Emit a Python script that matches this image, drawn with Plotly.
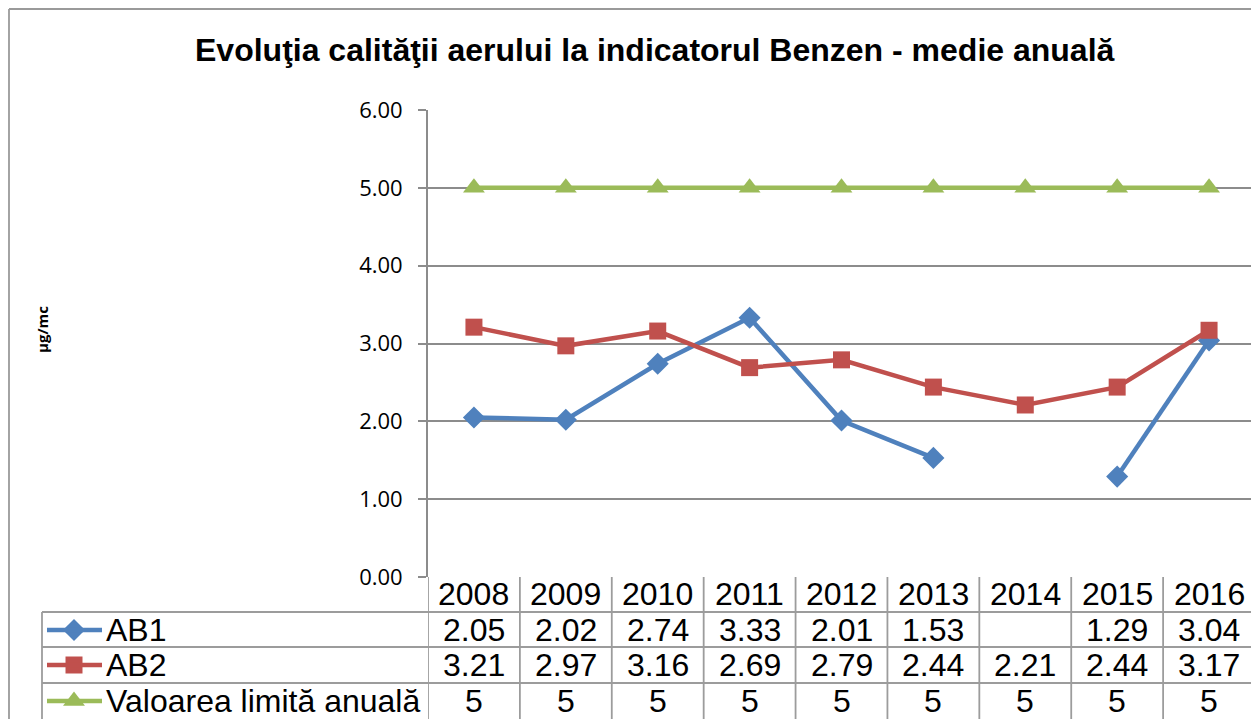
import plotly.graph_objects as go

# Date
ani = ['2008', '2009', '2010', '2011', '2012', '2013', '2014', '2015', '2016']
ab1 = [2.05, 2.02, 2.74, 3.33, 2.01, 1.53, None, 1.29, 3.04]
ab2 = [3.21, 2.97, 3.16, 2.69, 2.79, 2.44, 2.21, 2.44, 3.17]
limita = [5, 5, 5, 5, 5, 5, 5, 5, 5]

serii = [
    ('AB1', ab1, '#4F81BD', 'diamond', 17),
    ('AB2', ab2, '#C0504D', 'square', 17),
    ('Valoarea limită anuală', limita, '#9BBB59', 'triangle-up', 19),
]

W, H = 1259, 719
OFF = 8  # marginea paginii (body) deplaseaza totul cu 8px
GRID = '#8c8c8c'
TBL = '#9c9c9c'


def px(x):
    return (x - OFF) / W


def py(y):
    return 1 - (y - OFF) / H


fig = go.Figure()
idx = list(range(len(ani)))
for nume, vals, culoare, simbol, msize in serii:
    fig.add_trace(go.Scatter(
        x=idx, y=vals, mode='lines+markers', name=nume,
        line=dict(color=culoare, width=4.5),
        marker=dict(symbol=simbol, size=msize, color=culoare),
        connectgaps=False, showlegend=False,
        hovertemplate='%{y}<extra>' + nume + '</extra>'
    ))

shapes = []
ann = []


def linie(x0, y0, x1, y1, culoare, w=1.8, xref='paper'):
    shapes.append(dict(type='line', xref=xref, yref='paper',
                       x0=x0, x1=x1, y0=y0, y1=y1,
                       line=dict(color=culoare, width=w)))


# rama exterioara (doar stanga si sus se vad)
linie(px(9), py(9), 1, py(9), '#9a9a9a')
linie(px(9), py(9), px(9), 0, '#9a9a9a')

# tabel de date
rand_y = [594, 630, 665, 701]
for yy in [612, 647, 683]:
    linie(px(42), py(yy), px(1255), py(yy), TBL)
linie(px(42), py(612), px(42), 0, TBL)
for i in range(len(ani) + 1):
    linie(i - 0.5, py(577), i - 0.5, 0, TBL, xref='x')

FS = 32
for i, an in enumerate(ani):
    ann.append(dict(x=i, y=py(rand_y[0]), xref='x', yref='paper', text=an,
                    yanchor='middle', showarrow=False, font=dict(size=FS)))
    for r, (nume, vals, *_rest) in enumerate(serii):
        v = vals[i]
        if v is None:
            continue
        txt = str(v) if isinstance(v, int) else f'{v:.2f}'
        ann.append(dict(x=i, y=py(rand_y[r + 1]), xref='x', yref='paper',
                        text=txt, yanchor='middle', showarrow=False,
                        font=dict(size=FS)))

# legenda in tabel
for r, (nume, vals, culoare, simbol, msize) in enumerate(serii):
    yy = rand_y[r + 1]
    linie(px(47), py(yy), px(102), py(yy), culoare, w=4.5)
    fig.add_trace(go.Scatter(
        x=[74 - OFF], y=[yy - OFF], xaxis='x2', yaxis='y2', mode='markers',
        marker=dict(symbol=simbol, size=msize, color=culoare),
        showlegend=False, hoverinfo='skip'))
    ann.append(dict(x=px(104), y=py(yy), xref='paper', yref='paper',
                    text=nume, showarrow=False, xanchor='left',
                    yanchor='middle', font=dict(size=FS)))

ann.append(dict(x=px(655), y=py(50), xref='paper', yref='paper',
                text='<b>Evoluţia calităţii aerului la indicatorul Benzen - medie anuală</b>',
                showarrow=False, xanchor='center', yanchor='middle',
                font=dict(size=32)))
ann.append(dict(x=px(42), y=py(330), xref='paper', yref='paper',
                text='<b>µg/mc</b>', textangle=-90, showarrow=False,
                xanchor='center', yanchor='middle',
                font=dict(size=15, family='Open Sans')))

fig.update_layout(
    width=W, height=H,
    margin=dict(l=0, r=0, t=0, b=0, autoexpand=False),
    paper_bgcolor='white', plot_bgcolor='rgba(0,0,0,0)',
    font=dict(family='Liberation Sans, Arial', color='black'),
    xaxis=dict(domain=[px(428), px(1255)], range=[-0.5, len(ani) - 0.5],
               showticklabels=False, showgrid=False, zeroline=False,
               showline=False, fixedrange=True),
    yaxis=dict(domain=[py(577), py(110)], range=[0, 6], dtick=1,
               tickformat='.2f', showgrid=True, gridcolor=GRID, gridwidth=1.8,
               zeroline=False, showline=True, linecolor=GRID, linewidth=1.8,
               ticks='outside', ticklen=8, tickcolor=GRID, tickwidth=1.8,
               tickfont=dict(family='Open Sans', size=22), ticklabelstandoff=11),
    xaxis2=dict(domain=[0, 1], range=[0, W], visible=False, anchor='y2'),
    yaxis2=dict(domain=[0, 1], range=[H, 0], visible=False, anchor='x2'),
    shapes=shapes,
    annotations=ann,
)

fig.write_html('out.html')
